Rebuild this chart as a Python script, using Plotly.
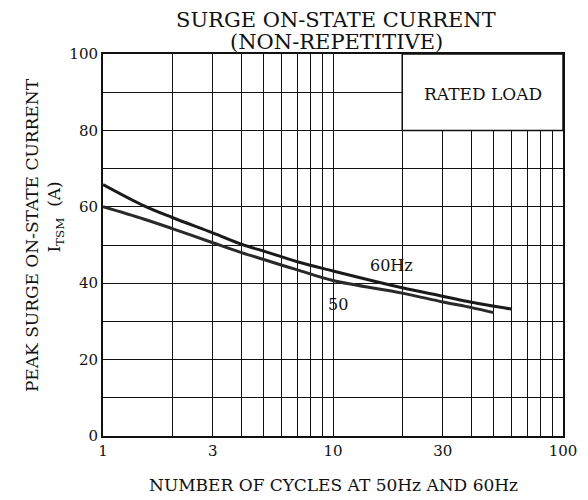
import plotly.graph_objects as go

# Data
cycles_60 = [1, 1.5, 2, 3, 4, 5, 6, 7, 10, 20, 30, 40, 60]
itsm_60 = [65.8, 60.3, 57.2, 53.2, 50.2, 48.4, 46.9, 45.6, 43.2, 38.8, 36.6, 35.0, 33.2]
cycles_50 = [1, 1.5, 2, 3, 4, 5, 6, 7, 10, 20, 30, 40, 50]
itsm_50 = [60.0, 56.8, 54.3, 50.6, 48.0, 46.2, 44.7, 43.5, 40.7, 37.4, 35.1, 33.6, 32.3]

x_ticks = [1, 3, 10, 30, 100]
x_tick_labels = ["1", "3", "10", "30", "100"]
x_minor_grid = [2, 4, 5, 6, 7, 8, 9, 20, 40, 50, 60, 70, 80, 90]
y_ticks = [0, 20, 40, 60, 80, 100]
y_tick_labels = ["0", "20", "40", "60", "80", "100"]
y_minor_grid = [10, 30, 50, 70, 90]

FONT = "DejaVu Serif"
INK = "#111111"

fig = go.Figure()
fig.add_trace(go.Scatter(x=cycles_60, y=itsm_60, mode="lines",
                         line=dict(color="#1a1a1a", width=3, shape="spline", smoothing=1.0),
                         name="60Hz", showlegend=False))
fig.add_trace(go.Scatter(x=cycles_50, y=itsm_50, mode="lines",
                         line=dict(color="#2a2a2a", width=3, shape="spline", smoothing=1.0),
                         name="50", showlegend=False))

fig.add_shape(type="rect", xref="x", yref="y", x0=20, x1=100, y0=80, y1=100,
              fillcolor="white", line=dict(color=INK, width=1.5), layer="above")

fig.add_annotation(x=1.65, y=89.5, xref="x", yref="y", text="RATED LOAD", showarrow=False,
                   font=dict(family=FONT, size=17, color=INK))
fig.add_annotation(x=1.255, y=44.6, xref="x", yref="y", text="60Hz", showarrow=False,
                   font=dict(family=FONT, size=16, color=INK))
fig.add_annotation(x=1.022, y=34.5, xref="x", yref="y", text="50", showarrow=False,
                   font=dict(family=FONT, size=16, color=INK))

# Title (two lines)
fig.add_annotation(xref="paper", yref="paper", x=0.507, y=1.089, yanchor="middle",
                   text="SURGE ON-STATE CURRENT", showarrow=False,
                   font=dict(family=FONT, size=21, color=INK))
fig.add_annotation(xref="paper", yref="paper", x=0.507, y=1.031, yanchor="middle",
                   text="(NON-REPETITIVE)", showarrow=False,
                   font=dict(family=FONT, size=21, color=INK))

# X axis title
fig.add_annotation(xref="paper", yref="paper", x=0.5, y=-0.128, yanchor="middle",
                   text="NUMBER OF CYCLES AT 50Hz AND 60Hz", showarrow=False,
                   font=dict(family=FONT, size=17, color=INK))

# Y axis title (two lines)
fig.add_annotation(xref="paper", yref="paper", x=0, xshift=-83, y=0.526, text="PEAK SURGE ON-STATE CURRENT",
                   textangle=-90, showarrow=False, font=dict(family=FONT, size=17, color=INK))
fig.add_annotation(xref="paper", yref="paper", x=0, xshift=-61, y=0.573, text="I<sub>TSM</sub>  (A)",
                   textangle=-90, showarrow=False, font=dict(family=FONT, size=17, color=INK))

fig.update_xaxes(type="log", range=[0, 2], tickvals=x_ticks, ticktext=x_tick_labels,
                 showgrid=True, gridcolor=INK, gridwidth=1, showline=True, linecolor=INK, linewidth=2,
                 mirror=True, ticks="", zeroline=False,
                 minor=dict(tickvals=x_minor_grid, showgrid=True, gridcolor=INK, gridwidth=1, ticks=""),
                 tickfont=dict(family=FONT, size=15, color=INK))
fig.update_yaxes(range=[0, 100], tickvals=y_ticks, ticktext=y_tick_labels,
                 showgrid=True, gridcolor=INK, gridwidth=1, showline=True, linecolor=INK, linewidth=2,
                 mirror=True, ticks="", zeroline=False,
                 minor=dict(tickvals=y_minor_grid, showgrid=True, gridcolor=INK, gridwidth=1, ticks=""),
                 tickfont=dict(family=FONT, size=15, color=INK))

fig.update_layout(width=580, height=492, margin=dict(l=95, r=25, t=46, b=64),
                  plot_bgcolor="white", paper_bgcolor="white")

fig.write_html("out.html")
